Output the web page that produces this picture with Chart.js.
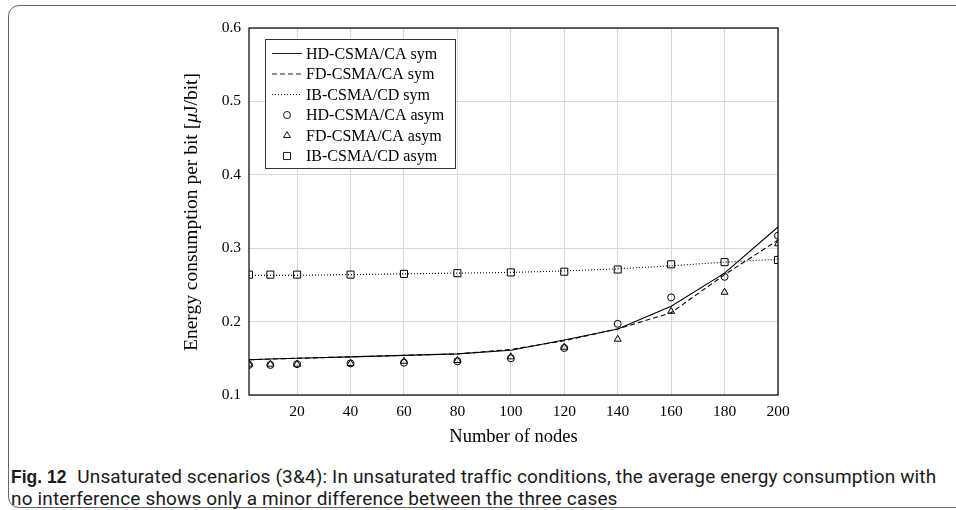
<!DOCTYPE html>
<html>
<head>
<meta charset="utf-8">
<script src="https://cdn.jsdelivr.net/npm/chart.js@4.4.1/dist/chart.umd.min.js"></script>
<style>
  body { margin: 0; background: #fff; width: 956px; height: 510px; overflow: hidden; position: relative; }
  #card { position: absolute; left: 8px; top: 5px; width: 1000px; height: 501px; border: 1.5px solid #666; border-radius: 11px; }
  #wrap { position: absolute; left: 0; top: 0; width: 956px; height: 460px; }
  #caption { position: absolute; left: 11px; top: 466px; width: 950px; white-space: nowrap; font-family: "Roboto", sans-serif; font-size: 19px; letter-spacing: 0.15px; line-height: 21px; color: #1a1a1a; }
  #caption b { font-family: "Liberation Sans", sans-serif; font-size: 17.5px; letter-spacing: 0; margin-right: 6px; }
</style>
</head>
<body>
<div id="card"></div>
<div id="wrap"><canvas id="chart" width="956" height="460"></canvas></div>
<div id="caption"><b>Fig. 12</b> Unsaturated scenarios (3&amp;4): In unsaturated traffic conditions, the average energy consumption with<br>no interference shows only a minor difference between the three cases</div>
<script>
const nodes = [2, 10, 20, 40, 60, 80, 100, 120, 140, 160, 180, 200];
const xTicks = [20, 40, 60, 80, 100, 120, 140, 160, 180, 200];
const yTicks = [0.1, 0.2, 0.3, 0.4, 0.5, 0.6];

const hdSym = [0.148, 0.149, 0.150, 0.152, 0.154, 0.156, 0.161, 0.175, 0.190, 0.221, 0.266, 0.329];
const fdSym = [0.148, 0.149, 0.150, 0.152, 0.154, 0.156, 0.162, 0.174, 0.190, 0.212, 0.264, 0.311];
const ibSym = [0.263, 0.263, 0.263, 0.264, 0.265, 0.266, 0.267, 0.269, 0.272, 0.276, 0.281, 0.285];
const hdAsym = [0.141, 0.141, 0.142, 0.143, 0.144, 0.146, 0.150, 0.164, 0.197, 0.233, 0.261, 0.317];
const fdAsym = [0.142, 0.142, 0.142, 0.143, 0.146, 0.147, 0.152, 0.165, 0.176, 0.214, 0.240, 0.306];
const ibAsym = [0.264, 0.264, 0.264, 0.264, 0.265, 0.266, 0.267, 0.268, 0.271, 0.278, 0.281, 0.284];

const serif = '"Liberation Serif", "DejaVu Serif", serif';

function pts(vals) {
  return vals.map((v, i) => ({ x: nodes[i], y: v }));
}

const legendItems = [
  { label: 'HD-CSMA/CA sym', dash: [] },
  { label: 'FD-CSMA/CA sym', dash: [5, 3] },
  { label: 'IB-CSMA/CD sym', dash: [1, 2] },
  { label: 'HD-CSMA/CA asym', marker: 'circle' },
  { label: 'FD-CSMA/CA asym', marker: 'triangle' },
  { label: 'IB-CSMA/CD asym', marker: 'rect' }
];

// frame, axis titles and the legend box
const extras = {
  id: 'extras',
  afterDraw(chart) {
    const ctx = chart.ctx;
    const a = chart.chartArea;
    ctx.save();
    ctx.strokeStyle = '#000';
    ctx.lineWidth = 1.2;
    ctx.strokeRect(a.left, a.top, a.right - a.left, a.bottom - a.top);

    ctx.fillStyle = '#000';
    ctx.font = '18.5px ' + serif;
    ctx.textAlign = 'center';
    ctx.textBaseline = 'middle';
    ctx.fillText('Number of nodes', (a.left + a.right) / 2, 437);

    // y title, with an italic mu
    ctx.save();
    ctx.translate(192, 212);
    ctx.rotate(-Math.PI / 2);
    const parts = [['Energy consumption per bit [', ''], ['\u03BC', 'italic '], ['J/bit]', '']];
    let total = 0;
    parts.forEach(p => { ctx.font = p[1] + '19.5px ' + serif; total += ctx.measureText(p[0]).width; });
    let x = -total / 2;
    ctx.textAlign = 'left';
    parts.forEach(p => {
      ctx.font = p[1] + '19.5px ' + serif;
      ctx.fillText(p[0], x, 0);
      x += ctx.measureText(p[0]).width;
    });
    ctx.restore();

    // legend
    const lx = 265.5, ly = 39.5, lw = 190, lh = 129;
    ctx.fillStyle = '#fff';
    ctx.fillRect(lx, ly, lw, lh);
    ctx.strokeStyle = '#333';
    ctx.lineWidth = 1;
    ctx.strokeRect(lx, ly, lw, lh);
    ctx.font = '16px ' + serif;
    ctx.textAlign = 'left';
    legendItems.forEach((it, i) => {
      const y = 53.5 + i * 20.5;
      ctx.strokeStyle = '#000';
      ctx.lineWidth = 0.9;
      if (it.marker) {
        ctx.fillStyle = '#fff';
        Chart.helpers.drawPoint(ctx, { pointStyle: it.marker, radius: it.marker === 'circle' ? 3.5 : (it.marker === 'rect' ? 5 : 4), borderWidth: 0.9 }, 287, y);
      } else {
        ctx.setLineDash(it.dash);
        ctx.beginPath();
        ctx.moveTo(272, y);
        ctx.lineTo(302, y);
        ctx.stroke();
        ctx.setLineDash([]);
      }
      ctx.fillStyle = '#000';
      ctx.fillText(it.label, 306, y + 1);
    });
    ctx.restore();
  }
};

const lineDs = (label, vals, dash) => ({
  type: 'line', label, data: pts(vals), borderColor: '#000', borderWidth: 1.1,
  borderDash: dash, pointRadius: 0, fill: false, tension: 0
});
const markDs = (label, vals, style, r) => ({
  type: 'scatter', label, data: pts(vals), pointStyle: style, pointRadius: r,
  pointBackgroundColor: 'rgba(255,255,255,0)', pointBorderColor: '#000', pointBorderWidth: 1, showLine: false
});

new Chart(document.getElementById('chart'), {
  data: {
    datasets: [
      lineDs('HD-CSMA/CA sym', hdSym, []),
      lineDs('FD-CSMA/CA sym', fdSym, [5, 3]),
      lineDs('IB-CSMA/CD sym', ibSym, [1, 2]),
      markDs('HD-CSMA/CA asym', hdAsym, 'circle', 3.5),
      markDs('FD-CSMA/CA asym', fdAsym, 'triangle', 4),
      markDs('IB-CSMA/CD asym', ibAsym, 'rect', 5)
    ]
  },
  options: {
    responsive: false,
    animation: false,
    layout: { padding: { left: 0, right: 178, top: 28, bottom: 0 } },
    plugins: { legend: { display: false }, tooltip: { enabled: false } },
    scales: {
      x: {
        type: 'linear', min: 2, max: 200,
        afterBuildTicks: s => { s.ticks = xTicks.map(v => ({ value: v })); },
        afterFit: s => { s.height = 65; },
        grid: { color: '#d8d8d8', lineWidth: 1, drawTicks: false },
        border: { display: false },
        ticks: { color: '#000', font: { family: serif, size: 15.5 }, padding: 8, maxRotation: 0 }
      },
      y: {
        type: 'linear', min: 0.1, max: 0.6,
        afterBuildTicks: s => { s.ticks = yTicks.map(v => ({ value: v })); },
        afterFit: s => { s.width = 249; },
        grid: { color: '#d8d8d8', lineWidth: 1, drawTicks: false },
        border: { display: false },
        ticks: { color: '#000', font: { family: serif, size: 15.5 }, padding: 8, callback: v => v.toFixed(1) }
      }
    }
  },
  plugins: [extras]
});
</script>
</body>
</html>
